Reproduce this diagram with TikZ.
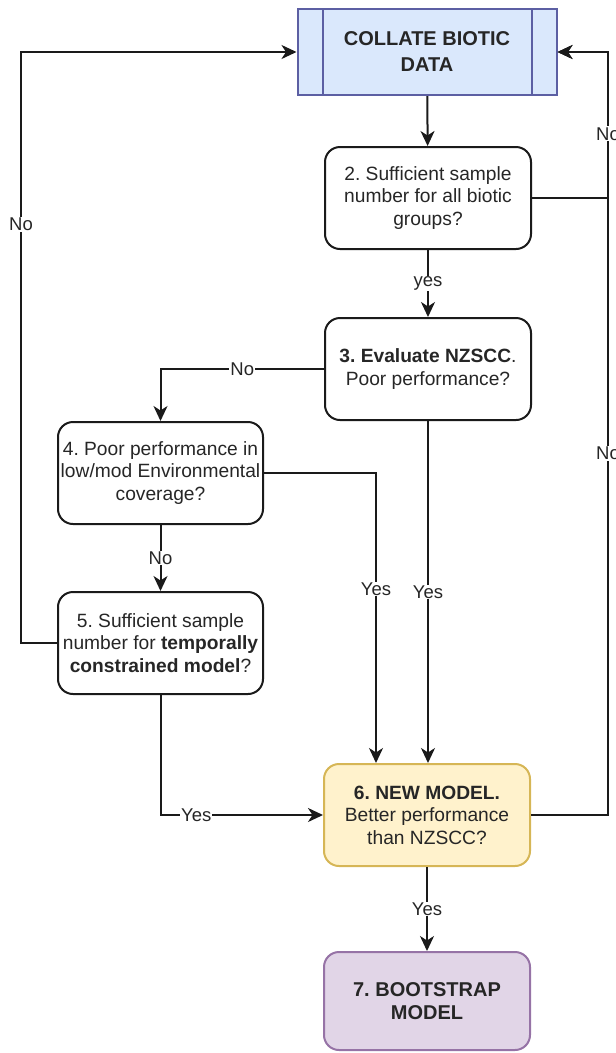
\documentclass[tikz,border=0pt]{standalone}
\usepackage{fontspec}
\setmainfont{Liberation Sans}
\usetikzlibrary{arrows.meta}
\definecolor{blueF}{HTML}{DAE8FC}
\definecolor{blueS}{HTML}{5C5FA3}
\definecolor{yelF}{HTML}{FFF2CC}
\definecolor{yelS}{HTML}{D6B656}
\definecolor{purF}{HTML}{E1D5E7}
\definecolor{purS}{HTML}{9673A6}
\definecolor{txt}{HTML}{262626}
\definecolor{edge}{HTML}{1A1A1A}
\begin{document}
\frenchspacing
\begin{tikzpicture}[x=1pt,y=-1pt,
  box/.style={draw=edge, line width=2pt, rounded corners=15pt, minimum width=206pt,
    minimum height=102pt, align=center, font=\fontsize{19.2}{22.5}\selectfont, text=txt, inner sep=0pt},
  conn/.style={line width=2pt, draw=edge, -{Stealth[length=15pt,width=14pt,inset=4.5pt]}},
  lbl/.style={fill=white, inner sep=1pt, font=\fontsize{18.5}{20}\selectfont, text=txt},
]
\useasboundingbox (0,0) rectangle (616,1053);

\node[box, fill=blueF, draw=blueS, rounded corners=0pt, minimum width=259pt, minimum height=86pt, font=\fontsize{20}{26}\selectfont] (n1) at (427,52) {\textbf{COLLATE BIOTIC}\\\textbf{DATA}};
\draw[blueS, line width=2pt] ([xshift=26pt]n1.north west) -- ([xshift=26pt]n1.south west);
\draw[blueS, line width=2pt] ([xshift=-26pt]n1.north east) -- ([xshift=-26pt]n1.south east);

\node[box] (n2) at (428,198) {2. Sufficient sample\\number for all biotic\\groups?};
\node[box] (n3) at (428,369) {\textbf{3. Evaluate NZSCC}.\\Poor performance?};
\node[box, minimum width=205pt] (n4) at (160.5,473) {4. Poor performance in\\low/mod Environmental\\coverage?};
\node[box, minimum width=205pt] (n5) at (160.5,643) {5. Sufficient sample\\number for \textbf{temporally}\\\textbf{constrained model}?};
\node[box, fill=yelF, draw=yelS] (n6) at (427,815) {\textbf{6. NEW MODEL.}\\Better performance\\ than NZSCC?};
\node[box, fill=purF, draw=purS, minimum height=98pt, font=\fontsize{20}{23}\selectfont] (n7) at (427,1001) {\textbf{7. BOOTSTRAP}\\\textbf{MODEL}};

\draw[conn] (n1) -- (n2);
\draw[conn] (n2) -- node[lbl]{yes} (n3);
\draw[conn] (n3.west) -| node[lbl, pos=0.25]{No} (n4.north);
\draw[conn] (n4.east) -| node[lbl, pos=0.7]{Yes} ([xshift=-51pt]n6.north);
\draw[conn] (n3.south) -- node[lbl]{Yes} (n3.south |- n6.north);
\draw[conn] (n4) -- node[lbl]{No} (n5);
\draw[conn] (n5.west) -- ++(-36,0) |- node[lbl, pos=0.354]{No} (n1.west);
\draw[conn] (n5.south) |- node[lbl, pos=0.61]{Yes} (n6.west);
\draw[conn] (n6.east) -- ++(77,0) |- node[lbl, pos=0.237]{No} (n1.east);
\draw[conn] (n2.east) -- ++(76,0) |- node[lbl, pos=0.22]{No} (n1.east);
\draw[conn] (n6) -- node[lbl]{Yes} (n7);
\end{tikzpicture}
\end{document}
